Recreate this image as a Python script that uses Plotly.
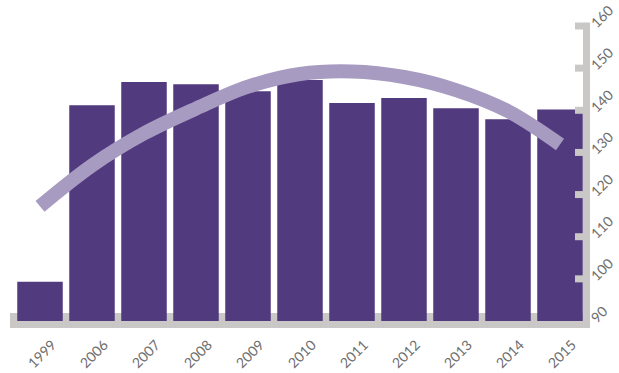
import plotly.graph_objects as go

# Categories and values
years = ["1999", "2006", "2007", "2008", "2009", "2010", "2011", "2012", "2013", "2014", "2015"]
bar_values = [99.3, 141.2, 146.7, 146.2, 144.5, 147.2, 141.7, 142.9, 140.5, 137.9, 140.2]
trend_values = [117.2, 126.9, 134.5, 140.4, 145.6, 148.6, 149.2, 147.9, 144.8, 139.8, 131.9]
y_ticks = [90, 100, 110, 120, 130, 140, 150, 160]

W, H = 619, 373
M_L, M_R, M_T, M_B = 14, 33, 26, 52
Y_MIN, Y_MAX = 90, 160

BAR_COLOR = "#523a7e"
TREND_COLOR = "#a89bc1"
AXIS_COLOR = "#c9c8c6"
TEXT_COLOR = "#6e6e6e"

plot_w = W - M_L - M_R
plot_h = H - M_T - M_B


def px_x(p):
    return (p - M_L) / plot_w


def px_y(p):
    return (H - M_B - p) / plot_h


def val_y(v):
    return (v - Y_MIN) / (Y_MAX - Y_MIN)


fig = go.Figure()
fig.add_trace(go.Bar(x=years, y=bar_values, base=0, marker_color=BAR_COLOR,
                     marker_line_width=0))
fig.add_trace(go.Scatter(x=years, y=trend_values, mode="lines",
                         line=dict(color=TREND_COLOR, width=14, shape="spline", smoothing=1.0)))

shapes = []
# thick baseline band under the bars
shapes.append(dict(type="rect", xref="paper", yref="paper", layer="below",
                   x0=px_x(10), x1=px_x(590), y0=px_y(328), y1=px_y(313),
                   fillcolor=AXIS_COLOR, line_width=0))
# vertical value axis bar
shapes.append(dict(type="rect", xref="paper", yref="paper", layer="above",
                   x0=px_x(583), x1=px_x(590), y0=px_y(328), y1=val_y(Y_MAX) + 3.5 / plot_h,
                   fillcolor=AXIS_COLOR, line_width=0))
# tick stubs pointing inward
for t in y_ticks[1:]:
    yc = val_y(t)
    shapes.append(dict(type="rect", xref="paper", yref="paper", layer="above",
                       x0=px_x(575), x1=px_x(583),
                       y0=yc - 3.5 / plot_h, y1=yc + 3.5 / plot_h,
                       fillcolor=AXIS_COLOR, line_width=0))

font = dict(family="Lato, 'Open Sans', sans-serif", size=14, color=TEXT_COLOR)

fig.update_layout(
    width=W, height=H,
    margin=dict(l=M_L, r=M_R, t=M_T, b=M_B, pad=0, autoexpand=False),
    paper_bgcolor="white",
    plot_bgcolor="rgba(0,0,0,0)",
    showlegend=False,
    bargap=0.125,
    shapes=shapes,
    font=font,
    xaxis=dict(type="category", showgrid=False, zeroline=False, showline=False,
               automargin=False, ticks="", tickangle=-45, tickfont=font,
               ticklabelstandoff=12, ticklabelshift=12, ticklabeloverflow="allow"),
    yaxis=dict(range=[Y_MIN, Y_MAX], side="right", showgrid=False, zeroline=False,
               automargin=False, showline=False, ticks="", tickvals=y_ticks,
               tickangle=-45, tickfont=font, ticklabelstandoff=5,
               ticklabeloverflow="allow"),
)

fig.write_html("out.html")
